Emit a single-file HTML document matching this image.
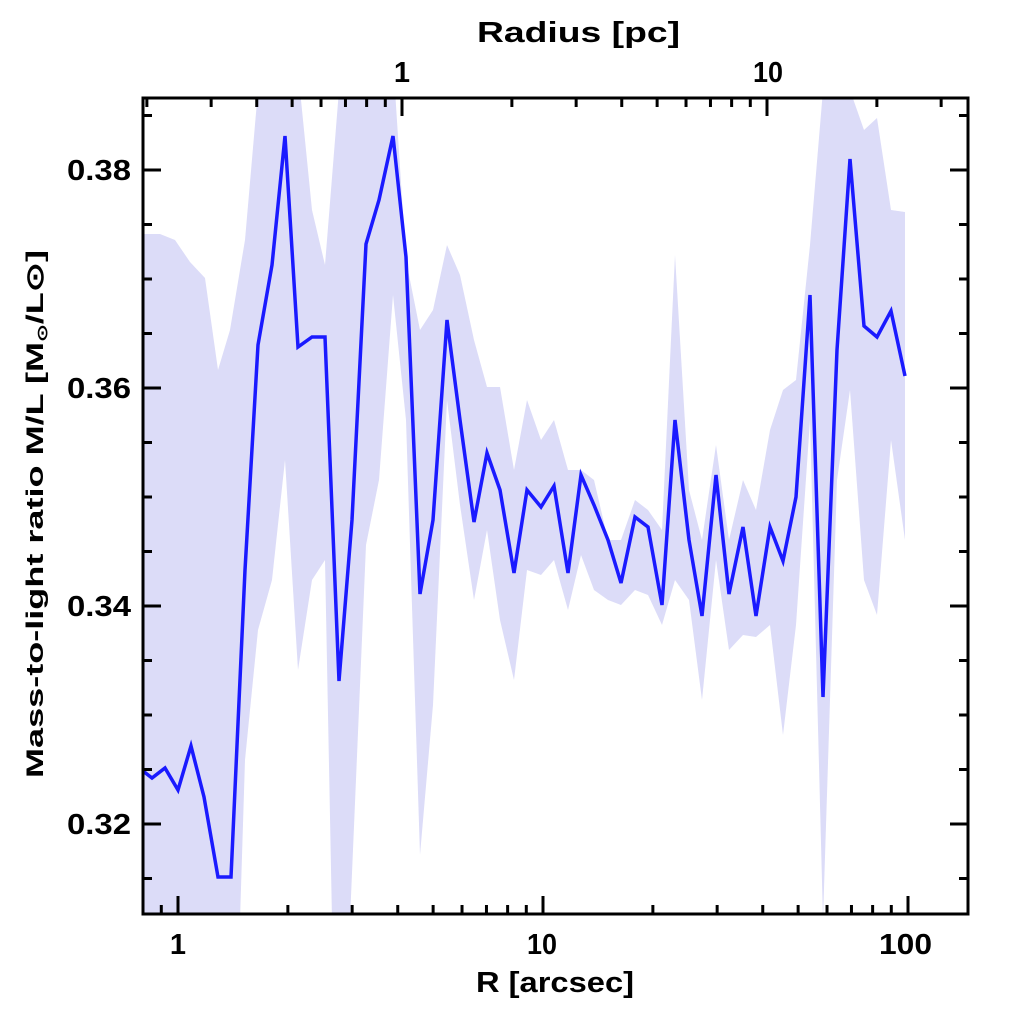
<!DOCTYPE html>
<html><head><meta charset="utf-8"><style>
html,body{margin:0;padding:0;background:#fff;width:1024px;height:1024px;overflow:hidden}
svg text{font-family:"Liberation Sans",sans-serif;font-weight:bold;fill:#000}
</style></head><body>
<svg id="s" width="1024" height="1024" xmlns="http://www.w3.org/2000/svg">
<defs><clipPath id="c"><rect x="143" y="98" width="825" height="816"/></clipPath></defs>
<g clip-path="url(#c)">
<polygon fill="#dcdcf8" points="143,234 160,234 175,240 190,262 205,278 218,370 230,330 245,240 258,90 300,90 312,210 325,265 339,90 395,90 406,260 420,330 433,310 447,245 460,275 474,340 487,387 500,387 514,470 527,400 541,440 554,420 568,470 581,470 594,480 608,540 621,540 635,500 648,510 662,530 675,255 689,490 702,540 716,445 729,540 743,480 756,510 770,430 783,390 796,380 810,245 823,90 850,90 864,130 877,118 891,210 905,212 905,540 891,440 877,615 864,580 850,390 837,480 823,920 810,420 796,625 783,735 770,625 756,637 743,635 729,650 716,560 702,700 689,600 675,580 662,625 648,595 635,590 621,605 608,600 594,590 581,555 568,610 554,560 541,575 527,570 514,680 500,620 487,530 474,600 460,505 447,400 433,705 420,855 406,420 393,295 379,480 366,545 350,920 332,920 325,560 312,580 298,670 285,460 272,580 258,630 245,760 240,920 143,920"/>
<polyline fill="none" stroke="#1a1aff" stroke-width="3.5" stroke-linejoin="miter" points="143,771 152,778 165,768 178,790 191,746 204,797 218,877 231,877 245,570 258,345 272,265 285,136 298,347 312,337 325,337 339,681 352,520 366,244 379,200 393,136 406,257 420,594 433,520 447,320 460,420 474,522 487,453 500,490 514,573 527,490 541,507 554,486 568,573 581,475 594,505 608,540 621,583 635,517 648,527 662,605 675,420 689,540 702,616 716,475 729,594 743,527 756,616 770,527 783,561 796,497 810,295 823,697 837,350 850,159 864,326 877,337 891,311 905,376"/>
</g>
<g id="t" stroke="#000" stroke-width="3"></g>
<rect x="143" y="98" width="825" height="816" fill="none" stroke="#000" stroke-width="3"/>
<g font-size="29">
<text x="178" y="954" text-anchor="middle">1</text>
<text x="527" y="954" textLength="30" lengthAdjust="spacingAndGlyphs">10</text>
<text x="879" y="954" textLength="53" lengthAdjust="spacingAndGlyphs">100</text>
<text x="402" y="82" text-anchor="middle">1</text>
<text x="753" y="82" textLength="30" lengthAdjust="spacingAndGlyphs">10</text>
<text x="67" y="180" textLength="64" lengthAdjust="spacingAndGlyphs">0.38</text>
<text x="67" y="398" textLength="64" lengthAdjust="spacingAndGlyphs">0.36</text>
<text x="67" y="616" textLength="64" lengthAdjust="spacingAndGlyphs">0.34</text>
<text x="67" y="834" textLength="64" lengthAdjust="spacingAndGlyphs">0.32</text>
<text x="476" y="992" textLength="158" lengthAdjust="spacingAndGlyphs">R [arcsec]</text>
<text x="477" y="42" textLength="203" lengthAdjust="spacingAndGlyphs">Radius [pc]</text>
</g>
<text transform="translate(43,778) rotate(-90)" font-size="24" textLength="528" lengthAdjust="spacingAndGlyphs">Mass-to-light ratio M/L [M<tspan font-size="14" dy="4">⊙</tspan><tspan dy="-4">/L⊙]</tspan></text>
</svg>
<script>
var g=document.getElementById('t'),h='';
function L(a,b,c,d){h+='<line x1="'+a+'" y1="'+b+'" x2="'+c+'" y2="'+d+'"/>';}
for(var dec=-1;dec<=2;dec++)for(var m=1;m<10;m++){var v=m*Math.pow(10,dec);var x=178+365*Math.log10(v);if(x<145||x>966)continue;var len=m==1?18:9;L(x,914,x,914-len);}
for(var dec=-1;dec<=1;dec++)for(var m=1;m<10;m++){var v=m*Math.pow(10,dec);var x=402+365*Math.log10(v);if(x<145||x>966)continue;var len=m==1?18:9;L(x,98,x,98+len);}
for(var k=0;k<16;k++){var v=0.315+k*0.005;var y=388-(v-0.36)*10900;if(y<100||y>912)continue;var maj=Math.abs((v*100)%2)<0.01||Math.abs((v*100)%2-2)<0.01;var len=maj?18:9;L(143,y,143+len,y);L(968,y,968-len,y);}
g.innerHTML=h;
</script>
</body></html>
